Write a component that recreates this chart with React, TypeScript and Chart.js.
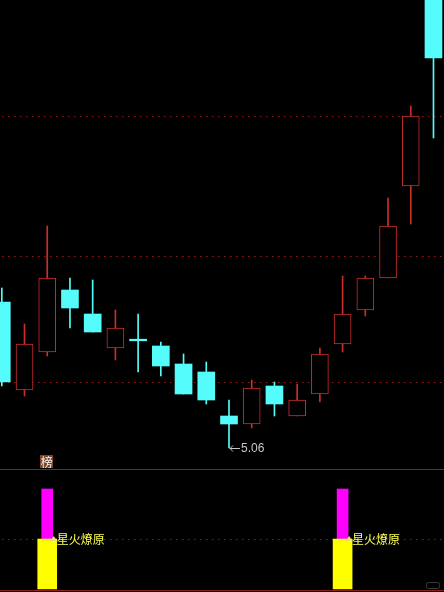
import React, { useEffect, useRef } from "react";
import { Chart, registerables } from "chart.js";

Chart.register(...registerables);

// ---- data ----
const dayIndex = [0, 1, 2, 3, 4, 5, 6, 7, 8, 9, 10, 11, 12, 13, 14, 15, 16, 17, 18, 19];
const openP = [5.79, 5.35, 5.54, 5.85, 5.73, 5.56, 5.6, 5.57, 5.48, 5.44, 5.22, 5.18, 5.37, 5.22, 5.33, 5.58, 5.75, 5.91, 6.37, 7.45];
const highP = [5.86, 5.68, 6.17, 5.91, 5.9, 5.75, 5.73, 5.59, 5.53, 5.49, 5.3, 5.4, 5.39, 5.38, 5.56, 5.92, 5.92, 6.31, 6.77, 7.55];
const lowP = [5.37, 5.32, 5.52, 5.66, 5.64, 5.5, 5.44, 5.42, 5.33, 5.28, 5.06, 5.16, 5.22, 5.22, 5.29, 5.54, 5.72, 5.91, 6.18, 6.61];
const closeP = [5.39, 5.58, 5.91, 5.76, 5.64, 5.66, 5.6, 5.47, 5.33, 5.3, 5.18, 5.36, 5.28, 5.3, 5.53, 5.73, 5.91, 6.17, 6.72, 7.01];
const gridLevels = [5.39, 6.02, 6.72];
const lowLabel = "5.06";
const badgeText = "榜";
const badgeIndex = 2;

const signalIndex = [2, 15];
const signalBase = [0, 0];
const signalMid = [50, 50];
const signalTop = [100, 100];
const signalLevel = 50;
const signalText = "星火燎原";

// ---- styles ----
const RED = "#cc2e2a";
const CYAN = "#55fcfc";
const GRID = "#8a2222";
const XMIN = -0.079;
const XMAX = 19.463;

function isUp(i: number) {
  return closeP[i] > openP[i];
}

function MainChart() {
  const ref = useRef<HTMLCanvasElement | null>(null);
  useEffect(() => {
    if (!ref.current) return;
    const wickData = dayIndex.map((i) => ({ x: i, y: [lowP[i], highP[i]] }));
    const bodyData = dayIndex.map((i) =>
      openP[i] === closeP[i]
        ? { x: i, y: [openP[i] - 0.004, openP[i] + 0.004] }
        : { x: i, y: [openP[i], closeP[i]] }
    );
    const colors = dayIndex.map((i) => (isUp(i) ? RED : CYAN));

    const overlay = {
      id: "overlay",
      beforeDatasetsDraw(chart: any) {
        const { ctx, scales } = chart;
        ctx.save();
        ctx.strokeStyle = GRID;
        ctx.lineWidth = 1;
        ctx.setLineDash([1.5, 4.5]);
        gridLevels.forEach((v) => {
          const y = Math.round(scales.y.getPixelForValue(v)) + 0.5;
          ctx.beginPath();
          ctx.moveTo(2, y);
          ctx.lineTo(444, y);
          ctx.stroke();
        });
        ctx.restore();
      },
      afterDatasetsDraw(chart: any) {
        const { ctx, scales } = chart;
        ctx.save();
        // lowest low label
        let mi = 0;
        lowP.forEach((v, i) => {
          if (v < lowP[mi]) mi = i;
        });
        const x = scales.x.getPixelForValue(mi);
        const y = scales.y.getPixelForValue(lowP[mi]);
        ctx.strokeStyle = "#c8c8c8";
        ctx.fillStyle = "#c8c8c8";
        ctx.lineWidth = 1;
        ctx.beginPath();
        ctx.moveTo(x + 1, y + 0.5);
        ctx.lineTo(x + 11, y + 0.5);
        ctx.moveTo(x + 1, y + 0.5);
        ctx.lineTo(x + 4, y - 2.5);
        ctx.moveTo(x + 1, y + 0.5);
        ctx.lineTo(x + 4, y + 3.5);
        ctx.stroke();
        ctx.font = '12px "Liberation Sans", Arial, sans-serif';
        ctx.textBaseline = "middle";
        ctx.textAlign = "left";
        ctx.fillText(lowLabel, x + 12, y + 1);

        // badge
        const bx = scales.x.getPixelForValue(badgeIndex);
        ctx.fillStyle = "#7e4426";
        ctx.fillRect(Math.round(bx - 7), 455, 13, 13);
        ctx.fillStyle = "#f4f4f4";
        ctx.font = '12px "Noto Sans CJK SC", sans-serif';
        ctx.textAlign = "center";
        ctx.textBaseline = "middle";
        ctx.fillText(badgeText, bx - 0.5, 462);
        ctx.restore();
      },
    };

    const chart = new Chart(ref.current, {
      type: "bar",
      data: {
        datasets: [
          {
            label: "wick",
            data: wickData as any,
            backgroundColor: colors,
            barThickness: 1,
            grouped: false,
            order: 2,
          } as any,
          {
            label: "body",
            data: bodyData as any,
            backgroundColor: dayIndex.map((i) => (isUp(i) ? "#000000" : CYAN)),
            borderColor: colors,
            borderWidth: dayIndex.map((i) => (isUp(i) ? 1 : 0)),
            borderSkipped: false,
            barThickness: 17,
            grouped: false,
            order: 1,
          } as any,
        ],
      },
      options: {
        animation: false,
        responsive: false,
        maintainAspectRatio: false,
        layout: { padding: 0 },
        plugins: { legend: { display: false }, tooltip: { enabled: false } },
        scales: {
          x: { type: "linear", min: XMIN, max: XMAX, display: false, offset: false },
          y: { type: "linear", min: 4.955, max: 7.3, display: false },
        },
      },
      plugins: [overlay],
    });
    return () => chart.destroy();
  }, []);
  return (
    <canvas
      ref={ref}
      width={444}
      height={469}
      style={{ position: "absolute", left: 0, top: 0, width: 444, height: 469 }}
    />
  );
}

function SignalChart() {
  const ref = useRef<HTMLCanvasElement | null>(null);
  useEffect(() => {
    if (!ref.current) return;
    const yellowData = signalIndex.map((d, k) => ({ x: d, y: [signalBase[k], signalMid[k]] }));
    const magentaData = signalIndex.map((d, k) => ({ x: d, y: [signalMid[k], signalTop[k]] }));

    const overlay = {
      id: "overlay2",
      beforeDatasetsDraw(chart: any) {
        const { ctx, scales } = chart;
        ctx.save();
        ctx.strokeStyle = "#8a1e1e";
        ctx.lineWidth = 1;
        ctx.beginPath();
        ctx.moveTo(0, 0.5);
        ctx.lineTo(444, 0.5);
        ctx.moveTo(0, 121.5);
        ctx.lineTo(444, 121.5);
        ctx.stroke();
        ctx.strokeStyle = GRID;
        ctx.setLineDash([1.5, 4.5]);
        const y = Math.round(scales.y.getPixelForValue(signalLevel)) + 0.5;
        ctx.beginPath();
        ctx.moveTo(2, y);
        ctx.lineTo(444, y);
        ctx.stroke();
        ctx.restore();
      },
      afterDatasetsDraw(chart: any) {
        const { ctx, scales } = chart;
        ctx.save();
        signalIndex.forEach((d, k) => {
          const x = scales.x.getPixelForValue(d);
          const y = scales.y.getPixelForValue(signalMid[k]);
          ctx.fillStyle = "#f0e070";
          ctx.beginPath();
          ctx.moveTo(x + 3, y + 2);
          ctx.lineTo(x + 6.5, y - 3);
          ctx.lineTo(x + 10, y + 2);
          ctx.closePath();
          ctx.fill();
          ctx.fillStyle = "#ffff55";
          ctx.font = '12px "Noto Sans CJK SC", sans-serif';
          ctx.textAlign = "left";
          ctx.textBaseline = "middle";
          ctx.fillText(signalText, x + 9.5, y);
        });
        // small corner icon
        ctx.strokeStyle = "#3a3a3a";
        ctx.lineWidth = 1;
        ctx.beginPath();
        (ctx as any).roundRect(426.5, 113.5, 13, 6, 2);
        ctx.stroke();
        ctx.restore();
      },
    };

    const chart = new Chart(ref.current, {
      type: "bar",
      data: {
        datasets: [
          {
            label: "base",
            data: yellowData as any,
            backgroundColor: "#ffff00",
            barThickness: 19,
            grouped: false,
            order: 1,
          } as any,
          {
            label: "top",
            data: magentaData as any,
            backgroundColor: "#ff00ff",
            barThickness: 11,
            grouped: false,
            order: 2,
          } as any,
        ],
      },
      options: {
        animation: false,
        responsive: false,
        maintainAspectRatio: false,
        layout: { padding: 0 },
        plugins: { legend: { display: false }, tooltip: { enabled: false } },
        scales: {
          x: { type: "linear", min: XMIN, max: XMAX, display: false, offset: false },
          y: { type: "linear", min: -3, max: 120, display: false },
        },
      },
      plugins: [overlay],
    });
    return () => chart.destroy();
  }, []);
  return (
    <canvas
      ref={ref}
      width={444}
      height={123}
      style={{ position: "absolute", left: 0, top: 469, width: 444, height: 123 }}
    />
  );
}

export default function App() {
  return (
    <div
      style={{
        position: "fixed",
        left: 0,
        top: 0,
        width: 444,
        height: 592,
        background: "#000",
        overflow: "hidden",
      }}
    >
      <MainChart />
      <SignalChart />
    </div>
  );
}
